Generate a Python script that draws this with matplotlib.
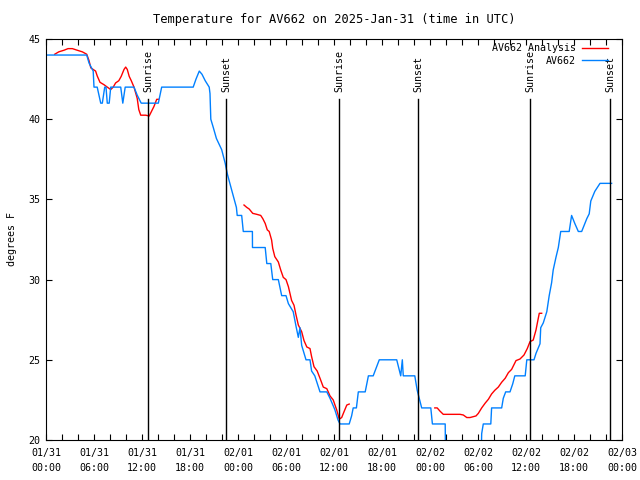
import numpy as np
import pandas as pd
import matplotlib
matplotlib.use("Agg")
import matplotlib.pyplot as plt
import matplotlib.dates as mdates

plt.rcParams['font.family'] = ['DejaVu Sans Mono']
plt.rcParams['font.size'] = 7.2

start = pd.Timestamp("2025-01-31 00:00")

# hours after 01/31 00:00 UTC, degrees F
obs_hours = [0.0, 5.09, 5.38, 5.9, 6.0, 6.4, 6.84, 7.04, 7.34, 7.5, 7.66, 7.9, 8.09,
             9.34, 9.6, 9.9, 11.0, 11.4, 11.9, 14.04, 14.25, 14.46, 18.4, 18.75,
             19.16, 19.5, 19.9, 20.4, 20.5, 20.6, 20.9, 21.3, 21.96, 22.4, 22.66,
             23.2, 23.8, 23.9, 24.46, 24.66, 25.8, 25.81, 27.4, 27.6, 28.1, 28.34,
             29.04, 29.46, 30.0, 30.3, 30.9, 31.25, 31.54, 31.75, 31.96, 32.5, 33.0,
             33.2, 33.6, 34.25, 35.1, 35.5, 36.1, 36.5, 36.75, 37.9, 38.2, 38.4,
             38.8, 39.04, 39.9, 40.3, 40.9, 41.66, 43.84, 44.04, 44.34, 44.54,
             44.66, 46.1, 46.4, 46.96, 48.1, 48.3, 49.9, 49.94, 54.4, 54.46, 54.66,
             55.6, 55.7, 56.96, 57.16, 57.46, 58.0, 58.34, 58.6, 59.9, 60.1, 61.0,
             61.25, 61.75, 61.84, 62.16, 62.6, 62.9, 63.2, 63.4, 63.75, 64.04,
             64.34, 65.4, 65.7, 66.1, 66.54, 66.96, 67.6, 67.9, 68.1, 68.6, 69.25,
             70.7]
obs_temp = [44.0, 44.0, 43.5, 43.0, 42.0, 42.0, 41.0, 41.0, 42.0, 42.0, 41.0, 41.0, 42.0,
            42.0, 41.0, 42.0, 42.0, 41.5, 41.0, 41.0, 41.5, 42.0, 42.0, 42.5,
            43.0, 42.8, 42.4, 42.0, 41.6, 40.0, 39.5, 38.8, 38.1, 37.25, 36.6,
            35.6, 34.5, 34.0, 34.0, 33.0, 33.0, 32.0, 32.0, 31.0, 31.0, 30.0,
            30.0, 29.0, 29.0, 28.5, 28.0, 27.1, 26.4, 27.0, 25.9, 25.0, 25.0,
            24.3, 24.0, 23.0, 23.0, 22.6, 21.9, 21.25, 21.0, 21.0, 21.5, 22.0,
            22.0, 23.0, 23.0, 24.0, 24.0, 25.0, 25.0, 24.6, 24.0, 25.0,
            24.0, 24.0, 23.1, 22.0, 22.0, 21.0, 21.0, 19.0, 19.0, 20.4, 21.0,
            21.0, 22.0, 22.0, 22.6, 23.0, 23.0, 23.5, 24.0, 24.0, 25.0, 25.0,
            25.4, 26.0, 27.0, 27.3, 28.0, 29.0, 29.8, 30.6, 31.4, 32.0,
            33.0, 33.0, 34.0, 33.5, 33.0, 33.0, 33.8, 34.1, 34.9, 35.5, 36.0,
            36.0]

ana_hours = [1.09, 1.6, 2.25, 2.75, 3.3, 3.9, 4.54, 5.09, 5.38, 5.6, 5.9, 6.2, 6.4,
             6.75, 7.25, 7.66, 8.09, 8.4, 8.7, 9.1, 9.4, 9.75, 9.96, 10.16, 10.4,
             10.66, 11.0, 11.4, 11.6, 11.84, 12.46, 12.9, 13.3, 13.5, 13.84, 14.04,
             19.0,
             24.75, 25.1, 25.4, 25.84, 26.34, 26.84, 27.1, 27.4, 27.66, 27.9, 28.2,
             28.34, 28.6, 29.04, 29.34, 29.66, 30.0, 30.3, 30.7, 31.0, 31.25,
             31.54, 31.96, 32.25, 32.6, 33.0, 33.2, 33.5, 33.9, 34.25, 34.66, 35.1,
             35.5, 35.9, 36.34, 36.66, 36.96, 37.25, 37.6, 37.9,
             43.0,
             48.6, 48.9, 49.25, 49.66, 51.75, 52.16, 52.6, 53.0, 53.75, 54.04,
             54.46, 54.9, 55.3, 55.7, 56.1, 56.54, 56.96, 57.4, 57.8, 58.2, 58.75,
             59.25, 59.75, 60.16, 60.5, 60.9, 61.25, 61.46, 61.66, 61.96]
ana_temp = [44.05, 44.2, 44.3, 44.4, 44.4, 44.3, 44.2, 44.05, 43.65, 43.2, 43.1, 43.0, 42.7,
            42.3, 42.15, 42.0, 41.85, 42.0, 42.26, 42.4, 42.67, 43.1, 43.25, 43.1, 42.67,
            42.4, 42.0, 41.3, 40.6, 40.25, 40.25, 40.2, 40.6, 40.8, 41.24, 41.24,
            np.nan,
            34.65, 34.5, 34.4, 34.13, 34.07, 34.0, 33.8, 33.5, 33.1, 33.0, 32.47,
            31.95, 31.43, 31.1, 30.6, 30.14, 30.0, 29.56, 28.7, 28.4, 27.8,
            27.17, 26.75, 26.2, 25.8, 25.7, 25.2, 24.57, 24.3, 23.85, 23.3, 23.2,
            22.75, 22.5, 21.87, 21.3, 21.4, 21.76, 22.18, 22.24,
            np.nan,
            22.0, 22.0, 21.8, 21.6, 21.6, 21.56, 21.4, 21.4, 21.5, 21.66,
            22.0, 22.3, 22.54, 22.87, 23.1, 23.3, 23.6, 23.85, 24.2, 24.4, 24.95,
            25.05, 25.3, 25.7, 26.13, 26.23, 26.86, 27.4, 27.9, 27.9]

sun_hours = [12.8, 22.5, 36.67, 46.5, 60.54, 70.54]
sun_labels = ["Sunrise", "Sunset", "Sunrise", "Sunset", "Sunrise", "Sunset"]

obs_t = start + pd.to_timedelta(obs_hours, unit="h")
ana_t = start + pd.to_timedelta(ana_hours, unit="h")
sun_t = start + pd.to_timedelta(sun_hours, unit="h")

fig = plt.figure(figsize=(6.4, 4.8), dpi=100)
ax = fig.add_axes([46/640, 40/480, 576/640, 401/480])

ax.plot(ana_t, ana_temp, color="#ff0000", lw=1.0, label="AV662 Analysis")
ax.plot(obs_t, obs_temp, color="#0080ff", lw=1.0, label="AV662")

for t, lab in zip(sun_t, sun_labels):
    ax.axvline(t, ymin=0, ymax=0.85, color="black", lw=1.0)
    ax.text(t, 0.868, lab, transform=ax.get_xaxis_transform(), rotation=90,
            ha="center", va="bottom")

ax.set_xlim(start, start + pd.Timedelta(hours=72))
ax.set_ylim(20, 45)
ax.set_yticks([20, 25, 30, 35, 40, 45])
ax.xaxis.set_major_locator(mdates.HourLocator(byhour=[0, 6, 12, 18]))
ax.xaxis.set_minor_locator(mdates.HourLocator(byhour=range(0, 24, 2)))
ax.xaxis.set_major_formatter(mdates.DateFormatter("%m/%d\n%H:%M"))
ax.tick_params(which="both", direction="in", top=True, right=True, length=4, width=0.8)
ax.tick_params(axis="x", pad=6)
ax.tick_params(axis="y", pad=4)
for lab in ax.get_xticklabels():
    lab.set_linespacing(1.6)

ax.set_ylabel("degrees F", labelpad=8)
ax.set_title("Temperature for AV662 on 2025-Jan-31 (time in UTC)", pad=11.5)

ax.legend(loc="upper right", bbox_to_anchor=(0.975, 0.99), frameon=False,
          markerfirst=False, handlelength=2.6, handletextpad=0.6,
          labelspacing=0.25, borderpad=0, borderaxespad=0)

fig.savefig("out.png", dpi=100)
